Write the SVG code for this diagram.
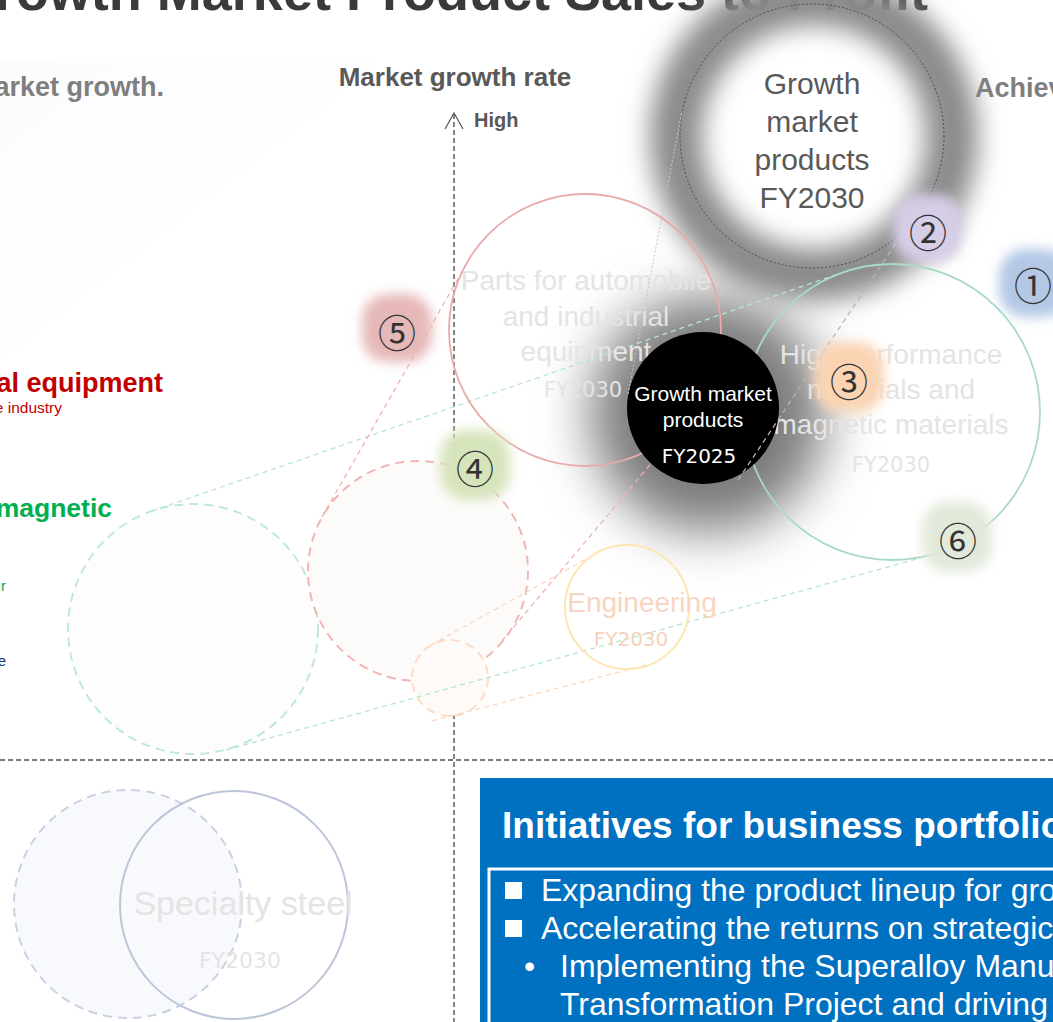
<svg xmlns="http://www.w3.org/2000/svg" width="1053" height="1022" viewBox="0 0 1053 1022">
<defs>
<style>
text{font-family:"Liberation Sans",Arial,sans-serif}
.dv{font-family:"DejaVu Sans",sans-serif}
.hdr{font-weight:bold;fill:#7f7f7f;font-size:27px}
.num{font-family:"Noto Sans CJK JP","DejaVu Sans",sans-serif;font-size:38px;fill:#333;text-anchor:middle;dominant-baseline:central}
.faint{fill:#e4e4e4;text-anchor:middle}
.axis{stroke:#7a7a7a;stroke-width:1.8;stroke-dasharray:5 3;fill:none}
.link{fill:none;stroke-width:1.3;stroke-dasharray:5 4}
.old{stroke-width:2;stroke-dasharray:9 6}
.badge{filter:url(#soft)}
.white{fill:#fff}
</style>
<filter id="soft" x="-50%" y="-50%" width="200%" height="200%"><feGaussianBlur stdDeviation="6"/></filter>
<filter id="halo" x="-70%" y="-70%" width="240%" height="240%"><feGaussianBlur stdDeviation="26"/></filter>
<filter id="ringHalo" x="-40%" y="-40%" width="180%" height="180%"><feGaussianBlur stdDeviation="13"/></filter>
<linearGradient id="band" x1="0" y1="0" x2="1" y2="1">
<stop offset="0" stop-color="#f7f7f7"/>
<stop offset="1" stop-color="#ffffff"/>
</linearGradient>
</defs>

<rect width="1053" height="1022" fill="#fff"/>

<!-- faint background band -->
<polygon points="0,62 380,62 0,360" fill="url(#band)" opacity="0.35"/>

<!-- page title -->
<text x="928" y="10" text-anchor="end" font-size="54" font-weight="bold" fill="#3a3a3a">Growth Market Product Sales to Profit</text>
<text class="hdr" x="164" y="96" text-anchor="end">arket growth.</text>
<text class="hdr" x="975" y="97">Achieve</text>

<!-- axes -->
<g id="axes">
<line class="axis" x1="454" y1="114" x2="454" y2="1022"/>
<line class="axis" x1="0" y1="760" x2="1053" y2="760"/>
<polyline points="445,129 454,113 463,129" fill="none" stroke="#555" stroke-width="1.2"/>
<text x="455" y="86" text-anchor="middle" font-size="26" font-weight="bold" fill="#595959">Market growth rate</text>
<text x="474" y="127" font-size="20" font-weight="bold" fill="#595959">High</text>
</g>

<!-- soft halos -->
<circle cx="814" cy="137" r="138" fill="none" stroke="#8a8a8a" stroke-width="52" filter="url(#ringHalo)"/>
<circle cx="708" cy="414" r="118" fill="#7a7a7a" filter="url(#halo)"/>

<!-- FY2025 positions (dashed) -->
<g id="old-magnetic"><circle class="old" cx="193" cy="629" r="125" fill="#fdfdfd" stroke="#bfead4"/></g>
<g id="old-parts"><circle class="old" cx="418" cy="571" r="110" fill="#fdfbfa" stroke="#f0b6b6"/></g>
<g id="old-engineering"><circle class="old" cx="450" cy="678" r="38" fill="#fefaf7" stroke="#fcdcc6"/></g>
<g id="old-steel"><circle class="old" cx="128" cy="904" r="114" fill="#f7f9fc" stroke="#c8d2e2"/></g>

<!-- connectors -->
<g id="connectors">
<line class="link" x1="152" y1="511" x2="844" y2="272" stroke="#b5e6cc"/>
<line class="link" x1="226" y1="750" x2="931" y2="555" stroke="#b5e6cc"/>
<line class="link" x1="322" y1="517" x2="467" y2="263" stroke="#f0b0b0"/>
<line class="link" x1="502" y1="641" x2="690" y2="417" stroke="#f0b0b0"/>
<line class="link" x1="431" y1="645" x2="597" y2="553" stroke="#fbd8c0"/>
<line class="link" x1="432" y1="721" x2="650" y2="664" stroke="#fbd8c0"/>
</g>

<!-- FY2030 positions -->
<g id="parts">
<circle cx="585" cy="330" r="136" fill="none" stroke="#e8aaaa" stroke-width="1.8"/>
<text class="faint" x="586" y="290" font-size="28">Parts for automobile</text>
<text class="faint" x="586" y="326" font-size="28">and industrial</text>
<text class="faint" x="586" y="361" font-size="28">equipment</text>
<text class="faint dv" x="583" y="397" font-size="21">FY2030</text>
</g>
<g id="magnetic">
<circle cx="892" cy="412" r="148" fill="none" stroke="#a8dcc2" stroke-width="1.8"/>
<text class="faint" x="891" y="364" font-size="28">High performance</text>
<text class="faint" x="891" y="399" font-size="28">materials and</text>
<text class="faint" x="891" y="434" font-size="28">magnetic materials</text>
<text class="faint dv" x="891" y="472" font-size="21">FY2030</text>
</g>
<g id="engineering">
<circle cx="627" cy="607" r="62" fill="none" stroke="#fde6b0" stroke-width="2"/>
<text x="642" y="612" text-anchor="middle" font-size="28" fill="#f8d5c0">Engineering</text>
<text class="dv" x="631" y="646" text-anchor="middle" font-size="20" fill="#f6d2bc">FY2030</text>
</g>
<g id="steel">
<circle cx="234" cy="905" r="114" fill="none" stroke="#bcc5da" stroke-width="2"/>
<text x="243" y="915" text-anchor="middle" font-size="34" fill="#e4e4e4">Specialty steel</text>
<text class="dv" x="240" y="968" text-anchor="middle" font-size="22" fill="#e4e4e4">FY2030</text>
</g>

<!-- growth market products FY2025 -->
<g id="growth-2025">
<circle cx="703" cy="408" r="76" fill="#000"/>
<text class="white" x="703" y="401" text-anchor="middle" font-size="21">Growth market</text>
<text class="white" x="703" y="427" text-anchor="middle" font-size="21">products</text>
<text class="white dv" x="699" y="463" text-anchor="middle" font-size="20">FY2025</text>
</g>

<!-- growth market products FY2030 -->
<g id="growth-2030">
<circle cx="812" cy="136" r="132" fill="none" stroke="#444" stroke-width="0.9" stroke-dasharray="2 2"/>
<text x="812" y="94" text-anchor="middle" font-size="30" fill="#595959">Growth</text>
<text x="812" y="132" text-anchor="middle" font-size="30" fill="#595959">market</text>
<text x="812" y="170" text-anchor="middle" font-size="30" fill="#595959">products</text>
<text x="812" y="208" text-anchor="middle" font-size="30" fill="#595959">FY2030</text>
</g>

<g id="growth-links">
<line x1="628" y1="394" x2="682" y2="111" stroke="#c8c8c8" stroke-width="1" stroke-dasharray="2 2"/>
<line class="link" x1="738" y1="480" x2="928" y2="195" stroke="#b4b4b4" stroke-width="1.2"/>
</g>

<!-- numbered badges -->
<g id="badge-1"><rect class="badge" x="999" y="249" width="70" height="68" rx="26" fill="#b4c8e6"/><text class="num" x="1033" y="283">①</text></g>
<g id="badge-2"><rect class="badge" x="893" y="194" width="70" height="68" rx="26" fill="#d6cde6"/><text class="num" x="928" y="230">②</text></g>
<g id="badge-3"><rect class="badge" x="814" y="342" width="70" height="70" rx="26" fill="#fbd4b4"/><text class="num" x="849" y="379">③</text></g>
<g id="badge-4"><rect class="badge" x="440" y="430" width="70" height="70" rx="26" fill="#d6e4bc"/><text class="num" x="475" y="466">④</text></g>
<g id="badge-5"><rect class="badge" x="362" y="294" width="70" height="68" rx="26" fill="#e6b8b8"/><text class="num" x="397" y="330">⑤</text></g>
<g id="badge-6"><rect class="badge" x="922" y="502" width="70" height="70" rx="26" fill="#e2e9da"/><text class="num" x="958" y="538">⑥</text></g>

<!-- segment labels -->
<g id="labels">
<text x="163" y="392" text-anchor="end" font-size="27" font-weight="bold" fill="#c00000">al equipment</text>
<text x="62" y="413" text-anchor="end" font-size="15.5" fill="#c00000">e industry</text>
<text x="112" y="517" text-anchor="end" font-size="26.5" font-weight="bold" fill="#00b050">magnetic</text>
<text x="6" y="591" text-anchor="end" font-size="15" fill="#00b050">r</text>
<text x="6" y="666" text-anchor="end" font-size="15" fill="#203864">e</text>
</g>

<!-- initiatives panel -->
<g id="initiatives">
<rect x="480" y="778" width="600" height="260" fill="#0070c0"/>
<rect x="489" y="869" width="600" height="200" fill="none" stroke="#fff" stroke-width="3"/>
<text class="white" x="502" y="838" font-size="37" font-weight="bold">Initiatives for business portfolio</text>
<rect class="white" x="505" y="882" width="17" height="17"/>
<rect class="white" x="505" y="920" width="17" height="17"/>
<text class="white" x="541" y="901" font-size="32">Expanding the product lineup for growth</text>
<text class="white" x="541" y="939" font-size="32">Accelerating the returns on strategic</text>
<text class="white" x="524" y="977" font-size="32">•</text>
<text class="white" x="560" y="977" font-size="32">Implementing the Superalloy Manufacturing</text>
<text class="white" x="560" y="1015" font-size="32">Transformation Project and driving</text>
</g>
</svg>
